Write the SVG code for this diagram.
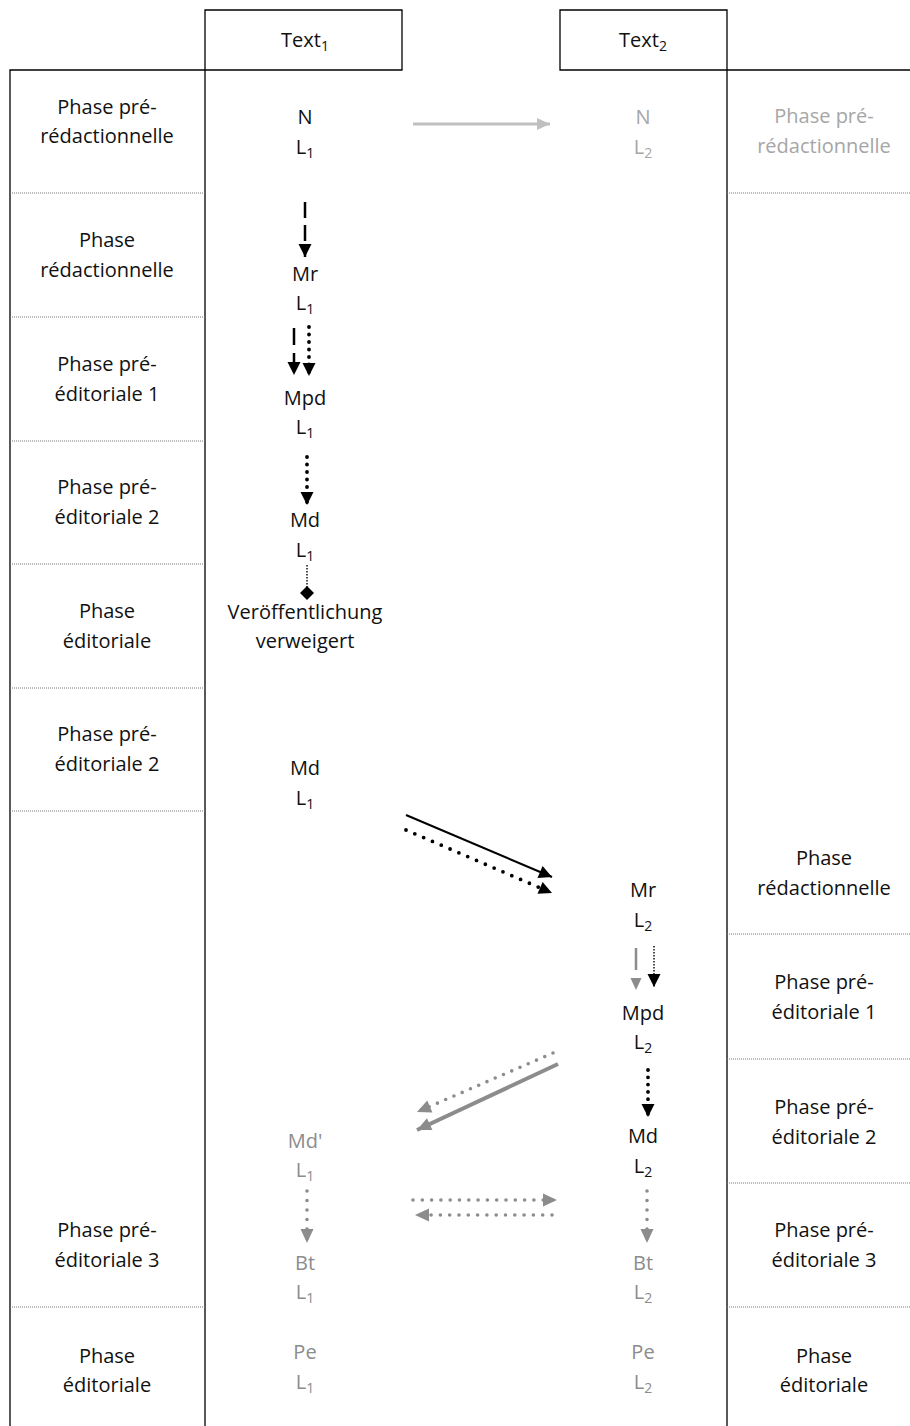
<svg xmlns="http://www.w3.org/2000/svg" width="910" height="1426" viewBox="0 0 910 1426">
<defs>
<style>
text{font-family:"Open Sans","Liberation Sans",sans-serif;font-size:20px;text-anchor:middle;fill:#111}
.g1{fill:#a6a6a6}
.g2{fill:#8c8c8c}
.sub{font-size:14px}
.frame{stroke:#000;stroke-width:1.3;fill:none}
.sep{stroke:#777;stroke-width:1;stroke-dasharray:1 1;fill:none}
.solid{stroke:#000;stroke-width:2;fill:none}
.dash{stroke:#000;stroke-width:2.5;fill:none}
.dot{stroke:#000;stroke-width:3.8;stroke-linecap:round;fill:none}
.fine{stroke:#000;stroke-width:1.4;stroke-dasharray:1.5 1.5;fill:none}
.gdot{stroke:#8c8c8c;stroke-width:3.6;stroke-linecap:round;fill:none}
.gsolid{stroke:#8c8c8c;stroke-width:4;fill:none}
.gdash{stroke:#8c8c8c;stroke-width:2.5;fill:none}
.lgsolid{stroke:#c0c0c0;stroke-width:3;fill:none}
</style>
<marker id="ah" markerUnits="userSpaceOnUse" markerWidth="14" markerHeight="14" refX="13" refY="6.5" orient="auto" overflow="visible"><path d="M0,0 L13,6.5 L0,13 z" fill="#000"/></marker>
<marker id="ahg" markerUnits="userSpaceOnUse" markerWidth="15" markerHeight="15" refX="14" refY="6.5" orient="auto" overflow="visible"><path d="M0,0 L14,6.5 L0,13 z" fill="#8c8c8c"/></marker>
<marker id="ahgs" markerUnits="userSpaceOnUse" markerWidth="13" markerHeight="13" refX="12" refY="5.5" orient="auto" overflow="visible"><path d="M0,0 L12,5.5 L0,11 z" fill="#8c8c8c"/></marker>
<marker id="ahlg" markerUnits="userSpaceOnUse" markerWidth="14" markerHeight="14" refX="13" refY="6" orient="auto" overflow="visible"><path d="M0,0 L13,6 L0,12 z" fill="#c0c0c0"/></marker>
</defs>

<g id="frame">
<path class="frame" d="M10,1426 V70 H402 V10 H205 V1426"/>
<path class="frame" d="M910,70 H560 V10 H727 V1426"/>
<path class="sep" d="M10,193 H205 M10,317 H205 M10,441 H205 M10,564 H205 M10,688 H205 M10,811 H205 M10,1307 H205"/>
<path class="sep" d="M727,193 H910 M727,934 H910 M727,1059 H910 M727,1183 H910 M727,1307 H910"/>
</g>

<g id="header1"><text x="305" y="47">Text<tspan class="sub" dy="4">1</tspan></text></g>
<g id="header2"><text x="643" y="47">Text<tspan class="sub" dy="4">2</tspan></text></g>

<g id="left-labels">
<text x="107" y="114">Phase pré-</text><text x="107" y="143">rédactionnelle</text>
<text x="107" y="247">Phase</text><text x="107" y="277">rédactionnelle</text>
<text x="107" y="371">Phase pré-</text><text x="107" y="401">éditoriale 1</text>
<text x="107" y="494">Phase pré-</text><text x="107" y="524">éditoriale 2</text>
<text x="107" y="618">Phase</text><text x="107" y="648">éditoriale</text>
<text x="107" y="741">Phase pré-</text><text x="107" y="771">éditoriale 2</text>
<text x="107" y="1237">Phase pré-</text><text x="107" y="1267">éditoriale 3</text>
<text x="107" y="1363">Phase</text><text x="107" y="1392">éditoriale</text>
</g>

<g id="right-labels">
<text class="g1" x="824" y="123">Phase pré-</text><text class="g1" x="824" y="153">rédactionnelle</text>
<text x="824" y="865">Phase</text><text x="824" y="895">rédactionnelle</text>
<text x="824" y="989">Phase pré-</text><text x="824" y="1019">éditoriale 1</text>
<text x="824" y="1114">Phase pré-</text><text x="824" y="1144">éditoriale 2</text>
<text x="824" y="1237">Phase pré-</text><text x="824" y="1267">éditoriale 3</text>
<text x="824" y="1363">Phase</text><text x="824" y="1392">éditoriale</text>
</g>

<g id="n-l1"><text x="305" y="124">N</text><text x="305" y="154">L<tspan class="sub" dy="4">1</tspan></text></g>
<g id="n-l2"><text class="g1" x="643" y="124">N</text><text class="g1" x="643" y="154">L<tspan class="sub" dy="4">2</tspan></text></g>
<g id="mr-l1"><text x="305" y="281">Mr</text><text x="305" y="310">L<tspan class="sub" dy="4">1</tspan></text></g>
<g id="mpd-l1"><text x="305" y="405">Mpd</text><text x="305" y="434">L<tspan class="sub" dy="4">1</tspan></text></g>
<g id="md-l1"><text x="305" y="527">Md</text><text x="305" y="557">L<tspan class="sub" dy="4">1</tspan></text></g>
<g id="refused"><text x="305" y="619">Veröffentlichung</text><text x="305" y="648">verweigert</text></g>
<g id="md-l1-b"><text x="305" y="775">Md</text><text x="305" y="805">L<tspan class="sub" dy="4">1</tspan></text></g>
<g id="mr-l2"><text x="643" y="897">Mr</text><text x="643" y="927">L<tspan class="sub" dy="4">2</tspan></text></g>
<g id="mpd-l2"><text x="643" y="1020">Mpd</text><text x="643" y="1049">L<tspan class="sub" dy="4">2</tspan></text></g>
<g id="md-l2"><text x="643" y="1143">Md</text><text x="643" y="1173">L<tspan class="sub" dy="4">2</tspan></text></g>
<g id="mdp-l1"><text class="g2" x="305" y="1148">Md'</text><text class="g2" x="305" y="1177">L<tspan class="sub" dy="4">1</tspan></text></g>
<g id="bt-l1"><text class="g2" x="305" y="1270">Bt</text><text class="g2" x="305" y="1299">L<tspan class="sub" dy="4">1</tspan></text></g>
<g id="bt-l2"><text class="g2" x="643" y="1270">Bt</text><text class="g2" x="643" y="1299">L<tspan class="sub" dy="4">2</tspan></text></g>
<g id="pe-l1"><text class="g2" x="305" y="1359">Pe</text><text class="g2" x="305" y="1389">L<tspan class="sub" dy="4">1</tspan></text></g>
<g id="pe-l2"><text class="g2" x="643" y="1359">Pe</text><text class="g2" x="643" y="1389">L<tspan class="sub" dy="4">2</tspan></text></g>

<g id="connectors">
<path class="lgsolid" d="M413,124 H550" marker-end="url(#ahlg)"/>
<path class="dash" d="M305,202 V257" stroke-dasharray="16 7" marker-end="url(#ah)"/>
<path class="dash" d="M294,328 V375" stroke-dasharray="17 8" marker-end="url(#ah)"/>
<path class="dot" d="M309,327 V376" stroke-dasharray="0 7.5" marker-end="url(#ah)"/>
<path class="dot" d="M307,457 V505" stroke-dasharray="0 7.5" marker-end="url(#ah)"/>
<path class="fine" d="M307,565 V588"/>
<path d="M307,586 L314,593 L307,600 L300,593 z" fill="#000"/>
<path class="solid" d="M406,815 L552,877" marker-end="url(#ah)"/>
<path class="dot" d="M406,830 L552,893" stroke-width="4" stroke-dasharray="0 9.6" marker-end="url(#ah)"/>
<path class="gdash" d="M636,948 V990" stroke-dasharray="22 60" marker-end="url(#ahgs)"/>
<path class="fine" d="M654,946 V987" marker-end="url(#ah)"/>
<path class="dot" d="M648,1070 V1117" stroke-dasharray="0 7.3" marker-end="url(#ah)"/>
<path class="gdot" d="M553,1053 L417,1112" stroke-dasharray="0 9" marker-end="url(#ahg)"/>
<path class="gsolid" d="M558,1064 L417,1130" marker-end="url(#ahg)"/>
<path class="gdot" d="M307,1191 V1243" stroke-dasharray="0 9.5" marker-end="url(#ahg)"/>
<path class="gdot" d="M647,1191 V1243" stroke-dasharray="0 9.5" marker-end="url(#ahg)"/>
<path class="gdot" d="M413,1200 H557" stroke-dasharray="0 9.3" marker-end="url(#ahg)"/>
<path class="gdot" d="M552,1215 H415" stroke-dasharray="0 9.3" marker-end="url(#ahg)"/>
</g>
</svg>
